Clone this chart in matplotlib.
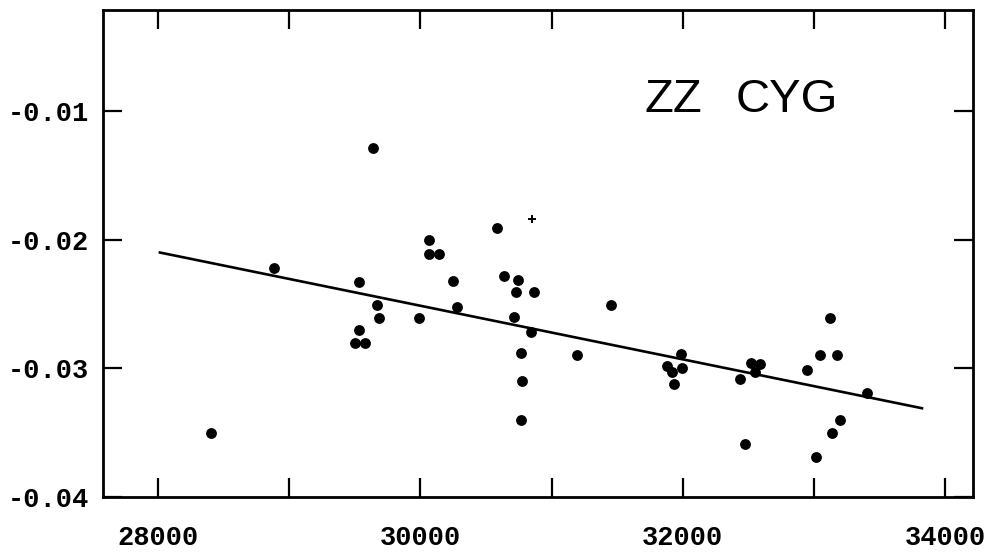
import matplotlib
matplotlib.use("Agg")
import matplotlib.pyplot as plt
import numpy as np

plt.rcParams['font.family'] = ['Liberation Mono', 'DejaVu Sans Mono']
plt.rcParams['axes.unicode_minus'] = False

# observed O-C values (JD - 2400000, days)
jd = [28404, 28886, 29504, 29534, 29534, 29580, 29641, 29667, 29682, 29992,
      30068, 30068, 30141, 30251, 30279, 30581, 30640, 30716, 30726, 30741,
      30767, 30767, 30777, 30843, 30863, 31191, 31455, 31877, 31920, 31935,
      31986, 31994, 32438, 32471, 32517, 32550, 32586, 32944, 33015, 33046,
      33124, 33137, 33173, 33198, 33401]
oc = [-0.0350, -0.0222, -0.0280, -0.0233, -0.0270, -0.0280, -0.0129, -0.0251, -0.0261, -0.0261,
      -0.0200, -0.0211, -0.0211, -0.0232, -0.0252, -0.0191, -0.0228, -0.0260, -0.0241, -0.0231,
      -0.0288, -0.0340, -0.0310, -0.0272, -0.0241, -0.0290, -0.0251, -0.0298, -0.0303, -0.0312,
      -0.0289, -0.0300, -0.0308, -0.0359, -0.0296, -0.0303, -0.0297, -0.0301, -0.0369, -0.0290,
      -0.0261, -0.0350, -0.0290, -0.0340, -0.0319]

# single uncertain point drawn as a cross
jd_cross = [30853]
oc_cross = [-0.0184]

# linear fit
fit_jd = [28015, 33823]
fit_oc = [-0.0210, -0.0331]

xticks = [28000, 29000, 30000, 31000, 32000, 33000, 34000]
xlabels = ['28000', '', '30000', '', '32000', '', '34000']
yticks = [-0.04, -0.03, -0.02, -0.01]
ylabels = ['-0.04', '-0.03', '-0.02', '-0.01']

fig = plt.figure(figsize=(9.88, 5.54), dpi=100)
ax = fig.add_axes([103 / 988, 57 / 554, 870 / 988, 487 / 554])

ax.plot(fit_jd, fit_oc, color='black', lw=1.9)
ax.plot(jd, oc, 'o', color='black', ms=7.8, mew=0)
ax.plot(jd_cross, oc_cross, '+', color='black', ms=6, mew=1.4)

ax.set_xlim(27581, 34212)
ax.set_ylim(-0.04, -0.00215)
ax.set_xticks(xticks)
ax.set_xticklabels(xlabels, fontweight='bold')
ax.set_yticks(yticks)
ax.set_yticklabels(ylabels, fontweight='bold')

ax.tick_params(direction='in', length=14, width=1.6, top=True, right=True,
               labelsize=19.5)
ax.tick_params(axis='x', pad=20)
ax.tick_params(axis='y', pad=10)
for s in ax.spines.values():
    s.set_linewidth(2)

fig.text(645 / 988, (554 - 112) / 554, 'ZZ', family='Liberation Sans',
         fontsize=34, ha='left', va='baseline')
fig.text(838 / 988, (554 - 112) / 554, 'CYG', family='Liberation Sans',
         fontsize=34, ha='right', va='baseline')

fig.savefig('out.png', dpi=100)
